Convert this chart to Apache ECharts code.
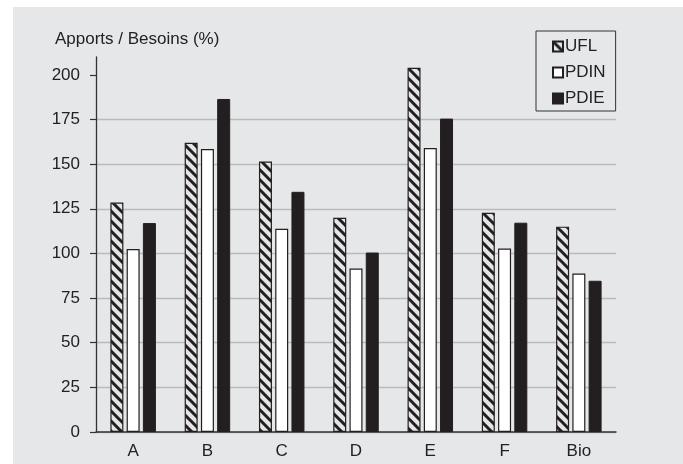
<!DOCTYPE html>
<html>
<head>
<meta charset="utf-8">
<script src="https://cdn.jsdelivr.net/npm/echarts@6/dist/echarts.min.js"></script>
<style>
  html, body { margin: 0; padding: 0; background: #ffffff; }
  #wrap { position: relative; width: 683px; height: 464px; overflow: hidden; }
  #bg { position: absolute; left: 13px; top: 7px; right: 0; bottom: 0; background: #e6e7e8; }
  #chart { position: absolute; left: 0; top: 0; width: 683px; height: 464px; }
</style>
</head>
<body>
<div id="wrap"><div id="bg"></div><div id="chart"></div></div>
<script>
const categories = ['A', 'B', 'C', 'D', 'E', 'F', 'Bio'];
const seriesNames = ['UFL', 'PDIN', 'PDIE'];
const uflValues = [128.5, 162, 151.5, 120, 204, 122.8, 115];
const pdinValues = [102.5, 158.5, 113.8, 91.5, 159, 102.8, 88.7];
const pdieValues = [117, 186.5, 134.5, 100.5, 175.5, 117.2, 84.7];
const yTicks = [0, 25, 50, 75, 100, 125, 150, 175, 200];
const yTitle = 'Apports / Besoins (%)';

function makeHatch() {
  const c = document.createElement('canvas');
  c.width = 10; c.height = 10;
  const g = c.getContext('2d');
  g.fillStyle = '#e4e5e7';
  g.fillRect(0, 0, 10, 10);
  g.strokeStyle = '#231f20';
  g.lineWidth = 3;
  g.beginPath();
  g.moveTo(-5, -5); g.lineTo(15, 15);
  g.moveTo(-5, 5); g.lineTo(5, 15);
  g.moveTo(5, -5); g.lineTo(15, 5);
  g.stroke();
  return c;
}

const font = 'Liberation Sans, Arial, Helvetica, sans-serif';
const chart = echarts.init(document.getElementById('chart'), null, { renderer: 'canvas' });
const barCommon = { type: 'bar', barWidth: 13, barGap: '25%' };
chart.setOption({
  backgroundColor: 'transparent',
  animation: false,
  title: {
    text: yTitle, left: 55, top: 31, padding: 0,
    textStyle: { fontFamily: font, fontSize: 17, fontWeight: 'normal', color: '#222' }
  },
  legend: {
    orient: 'vertical', left: 536, top: 31,
    padding: [7, 10, 4, 16],
    itemWidth: 10, itemHeight: 10, itemGap: 9,
    icon: 'rect',
    borderColor: '#333', borderWidth: 1,
    data: seriesNames,
    textStyle: { fontFamily: font, fontSize: 17, color: '#222', padding: [0, 0, 0, -3] }
  },
  grid: { left: 96, right: 67, top: 57, bottom: 32, containLabel: false },
  xAxis: {
    type: 'category', data: categories,
    axisLine: { lineStyle: { color: '#333', width: 1.5 } },
    axisTick: { show: false },
    axisLabel: { margin: 11, fontFamily: font, fontSize: 17, color: '#222' }
  },
  yAxis: {
    type: 'value', min: 0, max: 210, interval: 25,
    axisLine: { show: true, lineStyle: { color: '#333', width: 1.3 } },
    axisTick: { show: true, length: 6, customValues: yTicks, lineStyle: { color: '#333', width: 1.2 } },
    axisLabel: { margin: 16, customValues: yTicks, fontFamily: font, fontSize: 17, color: '#222' },
    splitLine: { show: true, showMaxLine: false, lineStyle: { color: '#b9babc', width: 1.3 } }
  },
  series: [
    Object.assign({}, barCommon, {
      name: seriesNames[0], data: uflValues,
      itemStyle: { color: { image: makeHatch(), repeat: 'repeat' }, borderColor: '#231f20', borderWidth: 1.2 }
    }),
    Object.assign({}, barCommon, {
      name: seriesNames[1], data: pdinValues,
      itemStyle: { color: '#ffffff', borderColor: '#231f20', borderWidth: 1.2 }
    }),
    Object.assign({}, barCommon, {
      name: seriesNames[2], data: pdieValues,
      itemStyle: { color: '#231f20', borderColor: '#231f20', borderWidth: 1 }
    })
  ]
});
</script>
</body>
</html>
